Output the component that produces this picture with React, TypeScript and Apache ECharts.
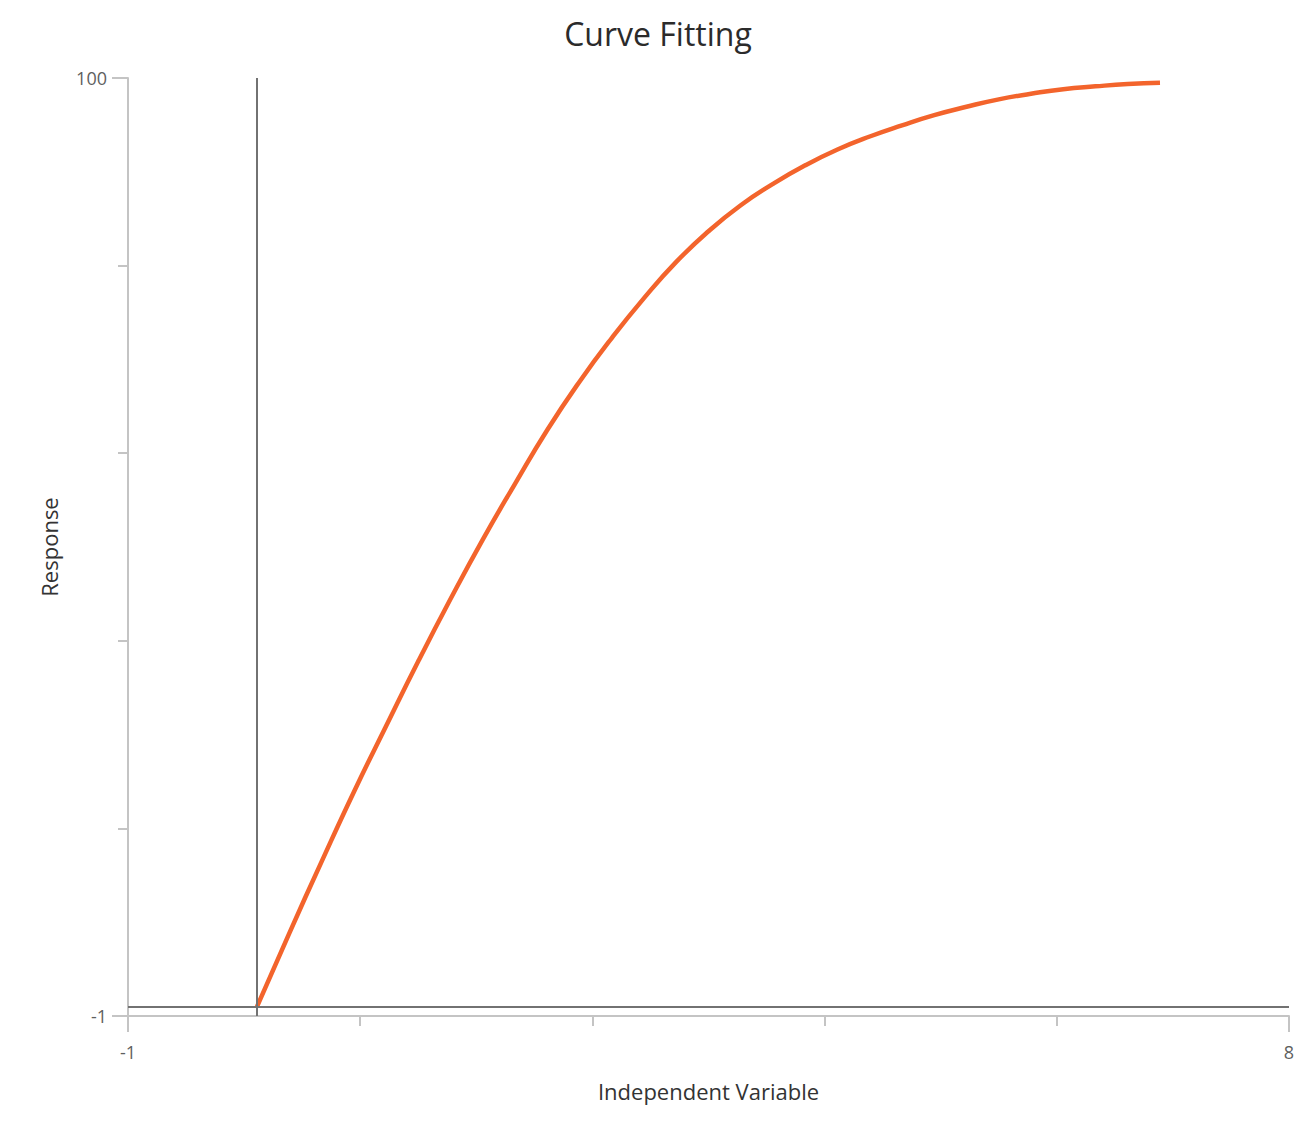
import React, { useEffect, useRef } from 'react';
import * as echarts from 'echarts';

// values
const fitX = [0, 0.25, 0.5, 0.75, 1.0, 1.25, 1.5, 1.75, 2.0, 2.25, 2.5, 2.75, 3.0, 3.25, 3.5, 3.75, 4.0, 4.25, 4.5, 4.75, 5.0, 5.25, 5.5, 5.75, 6.0, 6.25, 6.5, 6.75, 7.0];
const fitY = [0, 7.9, 15.6, 23.1, 30.2, 37.2, 43.9, 50.3, 56.3, 62.1, 67.3, 72.0, 76.3, 80.2, 83.5, 86.3, 88.6, 90.6, 92.3, 93.7, 94.9, 96.0, 96.9, 97.7, 98.3, 98.8, 99.1, 99.35, 99.5];

const xMin = -1;
const xMax = 8;
const yMin = -1;
const yMax = 100;
const xInnerTicks = [0.8, 2.6, 4.4, 6.2];
const yInnerTicks = [19.2, 39.4, 59.6, 79.8];
const xEndTicks = [-1, 8];
const yEndTicks = [-1, 100];

const FONT = "'Open Sans', 'Noto Sans', sans-serif";
const AXIS_GRAY = '#c4c4c4';
const ZERO_GRAY = '#727272';
const CURVE = '#f3642c';

const CurveChart: React.FC = () => {
  const chartRef = useRef<HTMLDivElement>(null);

  useEffect(() => {
    if (!chartRef.current) return;
    const chart = echarts.init(chartRef.current, null, { renderer: 'svg' });

    const options: echarts.EChartsOption = {
      animation: false,
      backgroundColor: '#fff',
      title: {
        text: 'Curve Fitting',
        left: 'center',
        top: 12,
        textStyle: { fontFamily: FONT, fontSize: 32, fontWeight: 'normal', color: '#2b2b2b' }
      },
      grid: { left: 128, right: 27, top: 78, bottom: 120 },
      xAxis: [
        {
          type: 'value',
          position: 'bottom',
          min: xMin,
          max: xMax,
          name: 'Independent Variable',
          nameLocation: 'middle',
          nameGap: 64,
          nameTextStyle: { fontFamily: FONT, fontSize: 22, color: '#333' },
          axisLine: { show: true, onZero: false, lineStyle: { color: AXIS_GRAY, width: 2 } },
          axisTick: { show: true, customValues: xInnerTicks, length: 10, lineStyle: { color: AXIS_GRAY, width: 2 } },
          axisLabel: { show: false },
          splitLine: { show: false }
        },
        {
          type: 'value',
          position: 'bottom',
          min: xMin,
          max: xMax,
          axisLine: { show: false, onZero: false },
          axisTick: { show: true, customValues: xEndTicks, length: 16, lineStyle: { color: AXIS_GRAY, width: 2 } },
          axisLabel: {
            show: true,
            customValues: xEndTicks,
            margin: 27,
            fontFamily: FONT,
            fontSize: 18,
            color: '#5f5f5f'
          },
          splitLine: { show: false }
        }
      ],
      yAxis: [
        {
          type: 'value',
          position: 'left',
          min: yMin,
          max: yMax,
          name: 'Response',
          nameLocation: 'middle',
          nameGap: 68,
          nameTextStyle: { fontFamily: FONT, fontSize: 22, color: '#333' },
          axisLine: { show: true, onZero: false, lineStyle: { color: AXIS_GRAY, width: 2 } },
          axisTick: { show: true, customValues: yInnerTicks, length: 10, lineStyle: { color: AXIS_GRAY, width: 2 } },
          axisLabel: { show: false },
          splitLine: { show: false }
        },
        {
          type: 'value',
          position: 'left',
          min: yMin,
          max: yMax,
          axisLine: { show: false, onZero: false },
          axisTick: { show: true, customValues: yEndTicks, length: 16, lineStyle: { color: AXIS_GRAY, width: 2 } },
          axisLabel: {
            show: true,
            customValues: yEndTicks,
            margin: 21,
            fontFamily: FONT,
            fontSize: 18,
            color: '#5f5f5f'
          },
          splitLine: { show: false }
        }
      ],
      series: [
        {
          type: 'line',
          xAxisIndex: 0,
          yAxisIndex: 0,
          data: fitX.map((x, i) => [x, fitY[i]]),
          smooth: 0.5,
          showSymbol: false,
          lineStyle: { color: CURVE, width: 4.5 },
          z: 3,
          markLine: {
            silent: true,
            symbol: 'none',
            label: { show: false },
            lineStyle: { color: ZERO_GRAY, width: 2, type: 'solid' },
            data: [{ xAxis: 0 }, { yAxis: 0 }]
          }
        }
      ]
    };

    chart.setOption(options);

    return () => {
      chart.dispose();
    };
  }, []);

  return <div ref={chartRef} style={{ position: 'fixed', left: 0, top: 0, width: '100vw', height: '100vh' }} />;
};

export default function App() {
  return <CurveChart />;
}
